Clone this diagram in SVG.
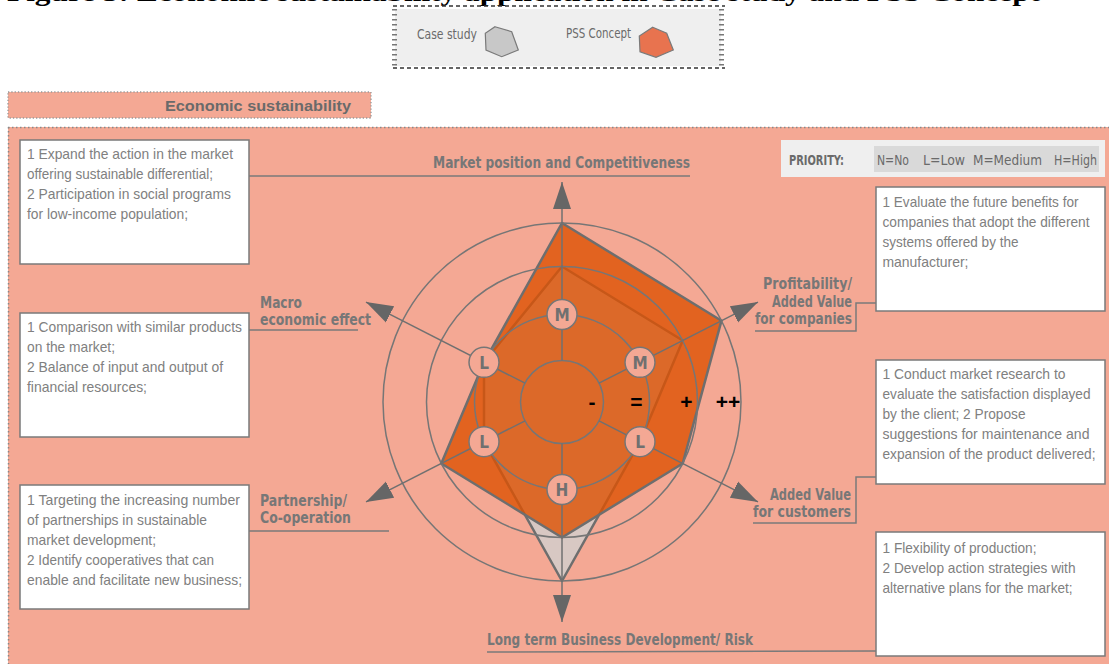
<svg xmlns="http://www.w3.org/2000/svg" width="1109" height="664" viewBox="0 0 1109 664">
<defs>
<style>
.box{fill:#fff;stroke:#7a7a7a;stroke-width:1.5}
.bt{font-family:"Liberation Sans Narrow","Liberation Sans",Arial,sans-serif;font-size:15px;fill:#808080}
.lbl{font-family:"DejaVu Sans Condensed","DejaVu Sans",sans-serif;font-size:15px;font-weight:bold;fill:#777}
.conn{fill:none;stroke:#7a7a7a;stroke-width:1.5}
.axis{stroke:#707070;stroke-width:1.5;marker-end:url(#arr)}
.ring{fill:none;stroke:#767676;stroke-width:1.5}
.mk circle{fill:#f4a894;stroke:#767676;stroke-width:1.5}
.mk text{font-family:"DejaVu Sans Condensed","DejaVu Sans",sans-serif;font-weight:bold;font-size:17px;fill:#707070;text-anchor:middle}
.lev{font-family:"Liberation Sans",Arial,sans-serif;font-weight:bold;font-size:21px;fill:#000;text-anchor:middle}
.pr{font-family:"DejaVu Sans Condensed","DejaVu Sans",sans-serif;font-size:14px;fill:#6a6a6a}
</style>
<marker id="arr" markerUnits="userSpaceOnUse" markerWidth="28" markerHeight="20" refX="27" refY="10" orient="auto"><path d="M0,1 L27,10 L0,19 Z" fill="#666"/></marker>
</defs>
<rect width="1109" height="664" fill="#fff"/>
<text x="7" y="1" font-family="Liberation Serif,serif" font-weight="bold" font-size="26" textLength="1033" lengthAdjust="spacingAndGlyphs">Figure 3: Economic sustainability application in Case study and PSS Concept</text>

<g id="legend">
<rect x="395" y="9" width="326" height="57" fill="#efefef"/>
<line x1="393" y1="6" x2="725" y2="6" stroke="#333" stroke-width="1.3" stroke-dasharray="4 3"/>
<line x1="393" y1="68" x2="725" y2="68" stroke="#333" stroke-width="1.3" stroke-dasharray="4 3"/>
<line x1="394.5" y1="9" x2="394.5" y2="66" stroke="#777" stroke-width="5" stroke-dasharray="1.5 3.5"/>
<line x1="721.5" y1="9" x2="721.5" y2="66" stroke="#777" stroke-width="5" stroke-dasharray="1.5 3.5"/>
<text x="417" y="39" class="pr" font-size="13" textLength="60" lengthAdjust="spacingAndGlyphs">Case study</text>
<polygon points="495,26.7 511.7,31.7 518.3,50 501.7,56.7 486,50 485.3,33.3" fill="#c8c8c8" stroke="#7a7a7a" stroke-width="1.2"/>
<text x="566" y="38" class="pr" font-size="13" textLength="65" lengthAdjust="spacingAndGlyphs">PSS Concept</text>
<polygon points="652.7,27.3 666.7,33.3 673.3,50 656,57.3 640,51.7 639.3,36" fill="#e8734f" stroke="#7a7a7a" stroke-width="1.2"/>
</g>

<g id="header">
<rect x="8" y="92" width="363" height="26" fill="#f4a894" stroke="#999" stroke-width="1.3" stroke-dasharray="1.3 2"/>
<text x="351" y="111" text-anchor="end" font-family="Liberation Sans,Arial,sans-serif" font-weight="bold" font-size="15" fill="#6a6a6a" textLength="186" lengthAdjust="spacingAndGlyphs">Economic sustainability</text>
</g>

<g id="panel">
<rect x="8" y="127" width="1101" height="537" fill="#f4a894"/>
<line x1="8" y1="127.5" x2="1109" y2="127.5" stroke="#888" stroke-width="1.5" stroke-dasharray="1.5 2.5"/>
<line x1="8.5" y1="127" x2="8.5" y2="664" stroke="#888" stroke-width="1.5" stroke-dasharray="1.5 2.5"/>
</g>

<g id="priority">
<rect x="781" y="140" width="324" height="37" fill="#efefef"/>
<rect x="874" y="146" width="225" height="26" fill="#d9d9d9"/>
<text x="789" y="165" class="pr" font-weight="bold" textLength="55" lengthAdjust="spacingAndGlyphs">PRIORITY:</text>
<text x="877" y="165" class="pr" textLength="32" lengthAdjust="spacingAndGlyphs">N=No</text>
<text x="923" y="165" class="pr" textLength="42" lengthAdjust="spacingAndGlyphs">L=Low</text>
<text x="973" y="165" class="pr" textLength="69" lengthAdjust="spacingAndGlyphs">M=Medium</text>
<text x="1054" y="165" class="pr" textLength="43" lengthAdjust="spacingAndGlyphs">H=High</text>
</g>

<g id="radar">
<polygon points="562,266.5 682.7,340.5 640,441.7 562,581 484,441.7 484,362.3" fill="#d8c8c3" stroke="#6e6e6e" stroke-width="2.5" stroke-linejoin="round"/>
<polygon points="562,223 721.5,320.7 682.7,463.5 562,537.5 441.3,463.5 484,362.3" fill="#dd5102" fill-opacity="0.8" stroke="#6e6e6e" stroke-width="2.5" stroke-linejoin="round"/>
<circle cx="562" cy="402" r="41.5" class="ring"/>
<circle cx="562" cy="402" r="87.5" class="ring" stroke-width="3"/>
<circle cx="562" cy="402" r="135.5" class="ring"/>
<circle cx="562" cy="402" r="179" class="ring"/>
<line class="axis" x1="562" y1="360.5" x2="562" y2="182"/>
<line class="axis" x1="562" y1="443.5" x2="562" y2="622"/>
<line class="axis" x1="599" y1="383.2" x2="758" y2="302.1"/>
<line class="axis" x1="599" y1="420.8" x2="758" y2="501.9"/>
<line class="axis" x1="525" y1="420.8" x2="366" y2="501.9"/>
<line class="axis" x1="525" y1="383.2" x2="366" y2="302.1"/>
<text class="lev" x="592" y="409">-</text>
<text class="lev" x="636.5" y="409">=</text>
<text class="lev" x="686.5" y="409">+</text>
<text class="lev" x="728" y="409">++</text>
</g>

<g id="mk-top" class="mk"><circle cx="562" cy="314.5" r="15"/><text x="562" y="321">M</text></g>
<g id="mk-ur" class="mk"><circle cx="640" cy="362.3" r="15"/><text x="640" y="368.8">M</text></g>
<g id="mk-ul" class="mk"><circle cx="484" cy="362.3" r="15"/><text x="484" y="368.8">L</text></g>
<g id="mk-ll" class="mk"><circle cx="484" cy="441.7" r="15"/><text x="484" y="448.2">L</text></g>
<g id="mk-lr" class="mk"><circle cx="640" cy="441.7" r="15"/><text x="640" y="448.2">L</text></g>
<g id="mk-bot" class="mk"><circle cx="562" cy="489.5" r="15"/><text x="562" y="496">H</text></g>

<g id="connectors">
<polyline class="conn" points="249,176 690,176"/>
<polyline class="conn" points="249,330 358,330"/>
<polyline class="conn" points="249,531 389,531"/>
<polyline class="conn" points="876,303 856,303 856,331 755,331"/>
<polyline class="conn" points="876,477 856,477 856,523 753,523"/>
<polyline class="conn" points="487,652 876,651"/>
</g>

<g id="labels">
<text class="lbl" x="433" y="168" textLength="257" lengthAdjust="spacingAndGlyphs">Market position and Competitiveness</text>
<text class="lbl" x="260" y="308" textLength="42" lengthAdjust="spacingAndGlyphs">Macro</text>
<text class="lbl" x="260" y="325" textLength="111" lengthAdjust="spacingAndGlyphs">economic effect</text>
<text class="lbl" x="260" y="506" textLength="87" lengthAdjust="spacingAndGlyphs">Partnership/</text>
<text class="lbl" x="260" y="523" textLength="91" lengthAdjust="spacingAndGlyphs">Co-operation</text>
<text class="lbl" x="763" y="289" textLength="89" lengthAdjust="spacingAndGlyphs">Profitability/</text>
<text class="lbl" x="772" y="307" textLength="80" lengthAdjust="spacingAndGlyphs">Added Value</text>
<text class="lbl" x="755" y="324" textLength="97" lengthAdjust="spacingAndGlyphs">for companies</text>
<text class="lbl" x="770" y="500" textLength="81" lengthAdjust="spacingAndGlyphs">Added Value</text>
<text class="lbl" x="753" y="517" textLength="98" lengthAdjust="spacingAndGlyphs">for customers</text>
<text class="lbl" x="487" y="645" textLength="266" lengthAdjust="spacingAndGlyphs">Long term Business Development/ Risk</text>
</g>

<g id="box1">
<rect class="box" x="20" y="140" width="229" height="124"/>
<text class="bt" x="27" y="159" textLength="206" lengthAdjust="spacingAndGlyphs">1 Expand the action in the market</text>
<text class="bt" x="27" y="179" textLength="186" lengthAdjust="spacingAndGlyphs">offering sustainable differential;</text>
<text class="bt" x="27" y="199" textLength="204" lengthAdjust="spacingAndGlyphs">2 Participation in social programs</text>
<text class="bt" x="27" y="219" textLength="161" lengthAdjust="spacingAndGlyphs">for low-income population;</text>
</g>
<g id="box2">
<rect class="box" x="20" y="313" width="229" height="124"/>
<text class="bt" x="27" y="332" textLength="215" lengthAdjust="spacingAndGlyphs">1 Comparison with similar products</text>
<text class="bt" x="27" y="352" textLength="88" lengthAdjust="spacingAndGlyphs">on the market;</text>
<text class="bt" x="27" y="372" textLength="196" lengthAdjust="spacingAndGlyphs">2 Balance of input and output of</text>
<text class="bt" x="27" y="392" textLength="120" lengthAdjust="spacingAndGlyphs">financial resources;</text>
</g>
<g id="box3">
<rect class="box" x="20" y="485" width="229" height="124"/>
<text class="bt" x="27" y="505" textLength="213" lengthAdjust="spacingAndGlyphs">1 Targeting the increasing number</text>
<text class="bt" x="27" y="525" textLength="180" lengthAdjust="spacingAndGlyphs">of partnerships in sustainable</text>
<text class="bt" x="27" y="545" textLength="129" lengthAdjust="spacingAndGlyphs">market development;</text>
<text class="bt" x="27" y="565" textLength="187" lengthAdjust="spacingAndGlyphs">2 Identify cooperatives that can</text>
<text class="bt" x="27" y="585" textLength="215" lengthAdjust="spacingAndGlyphs">enable and facilitate new business;</text>
</g>
<g id="box4">
<rect class="box" x="876" y="187" width="229" height="124"/>
<text class="bt" x="882.5" y="207" textLength="196" lengthAdjust="spacingAndGlyphs">1 Evaluate the future benefits for</text>
<text class="bt" x="882.5" y="227" textLength="207" lengthAdjust="spacingAndGlyphs">companies that adopt the different</text>
<text class="bt" x="882.5" y="247" textLength="136" lengthAdjust="spacingAndGlyphs">systems offered by the</text>
<text class="bt" x="882.5" y="267" textLength="86" lengthAdjust="spacingAndGlyphs">manufacturer;</text>
</g>
<g id="box5">
<rect class="box" x="876" y="360" width="229" height="124"/>
<text class="bt" x="882.5" y="379" textLength="183" lengthAdjust="spacingAndGlyphs">1 Conduct market research to</text>
<text class="bt" x="882.5" y="399" textLength="208" lengthAdjust="spacingAndGlyphs">evaluate the satisfaction displayed</text>
<text class="bt" x="882.5" y="419" textLength="143" lengthAdjust="spacingAndGlyphs">by the client; 2 Propose</text>
<text class="bt" x="882.5" y="439" textLength="207" lengthAdjust="spacingAndGlyphs">suggestions for maintenance and</text>
<text class="bt" x="882.5" y="459" textLength="213" lengthAdjust="spacingAndGlyphs">expansion of the product delivered;</text>
</g>
<g id="box6">
<rect class="box" x="876" y="532" width="229" height="124"/>
<text class="bt" x="882.5" y="553" textLength="154" lengthAdjust="spacingAndGlyphs">1 Flexibility of production;</text>
<text class="bt" x="882.5" y="573" textLength="193" lengthAdjust="spacingAndGlyphs">2 Develop action strategies with</text>
<text class="bt" x="882.5" y="593" textLength="190" lengthAdjust="spacingAndGlyphs">alternative plans for the market;</text>
</g>
</svg>
